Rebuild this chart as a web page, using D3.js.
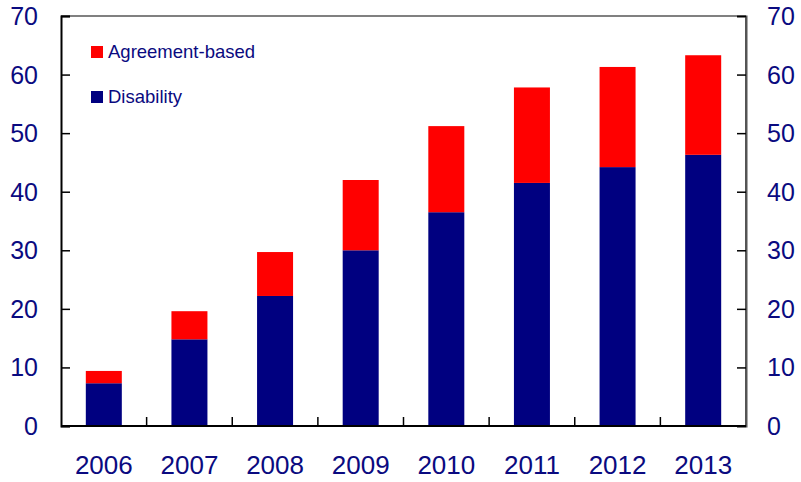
<!DOCTYPE html>
<html><head><meta charset="utf-8">
<script src="https://cdn.jsdelivr.net/npm/d3@7"></script>
<style>body{margin:0;background:#fff}svg{display:block}text{font-family:"Liberation Sans",Arial,sans-serif}</style>
</head><body>
<svg id="c" width="801" height="482"></svg>
<script>
const years = ["2006","2007","2008","2009","2010","2011","2012","2013"];
const disability = [7.3, 14.8, 22.2, 30.0, 36.5, 41.5, 44.2, 46.3];
const agreement = [2.1, 4.8, 7.5, 12.0, 14.7, 16.3, 17.1, 17.0];
const yTicks = [0,10,20,30,40,50,60,70];
const seriesNames = ["Agreement-based","Disability"];
const colors = {"Disability":"#000080","Agreement-based":"#ff0000"};
const textColor = "#0a0a80";

const svg = d3.select("#c");
const L = 61, R = 746, T = 16, B = 426;
const x = d3.scaleBand().domain(years).range([L,R]).paddingInner(0).paddingOuter(0);
const y = d3.scaleLinear().domain([0,70]).range([B,T]);
const bw = 36;

// bars
const data = years.map((yr,i)=>({yr, d:disability[i], a:agreement[i]}));
const g = svg.append("g");
g.selectAll("rect.d").data(data).enter().append("rect")
  .attr("x", d=>x(d.yr)+x.bandwidth()/2-bw/2).attr("width",bw)
  .attr("y", d=>y(d.d)).attr("height", d=>y(0)-y(d.d)).attr("fill",colors["Disability"]);
g.selectAll("rect.a").data(data).enter().append("rect")
  .attr("x", d=>x(d.yr)+x.bandwidth()/2-bw/2).attr("width",bw)
  .attr("y", d=>y(d.d+d.a)).attr("height", d=>y(d.d)-y(d.d+d.a)).attr("fill",colors["Agreement-based"]);

// frame
svg.append("line").attr("x1",L).attr("x2",R).attr("y1",T).attr("y2",T).attr("stroke","#808080").attr("stroke-width",2);
svg.append("line").attr("x1",R).attr("x2",R).attr("y1",T).attr("y2",B).attr("stroke","#555").attr("stroke-width",2);

// left axis
const yl = svg.append("g").attr("transform",`translate(${L},0)`)
  .call(d3.axisRight(y).tickValues(yTicks).tickSize(9).tickFormat(""));
yl.select(".domain").attr("stroke","#000").attr("stroke-width",2);
yl.selectAll(".tick line").attr("stroke","#000").attr("stroke-width",1.5);
// right axis
const yr = svg.append("g").attr("transform",`translate(${R},0)`)
  .call(d3.axisLeft(y).tickValues(yTicks).tickSize(9).tickFormat(""));
yr.select(".domain").attr("stroke","#555").attr("stroke-width",2);
yr.selectAll(".tick line").attr("stroke","#000").attr("stroke-width",1.5);

// y labels
svg.append("g").selectAll("text").data(yTicks).enter().append("text")
  .attr("x",38).attr("y",d=>y(d)+9).attr("text-anchor","end")
  .attr("font-size",25).attr("fill",textColor).text(d=>d);
svg.append("g").selectAll("text").data(yTicks).enter().append("text")
  .attr("x",767).attr("y",d=>y(d)+9).attr("text-anchor","start")
  .attr("font-size",25).attr("fill",textColor).text(d=>d);

// bottom axis
const xa = svg.append("g").attr("transform",`translate(0,${B})`);
xa.append("line").attr("x1",L).attr("x2",R).attr("stroke","#000").attr("stroke-width",2);
xa.selectAll("line.t").data(years.slice(1)).enter().append("line")
  .attr("x1",d=>x(d)).attr("x2",d=>x(d)).attr("y1",0).attr("y2",-9)
  .attr("stroke","#000").attr("stroke-width",1.5);
xa.selectAll("text").data(years).enter().append("text")
  .attr("x",d=>x(d)+x.bandwidth()/2).attr("y",48).attr("text-anchor","middle")
  .attr("font-size",26).attr("fill",textColor).text(d=>d);

// legend
const lg = svg.append("g");
seriesNames.forEach((n,i)=>{
  const yy = 46 + i*45;
  lg.append("rect").attr("x",91).attr("y",yy).attr("width",12).attr("height",12).attr("fill",colors[n]);
  lg.append("text").attr("x",108).attr("y",yy+12).attr("font-size",18.5).attr("fill",textColor).text(n);
});
</script>
</body></html>
